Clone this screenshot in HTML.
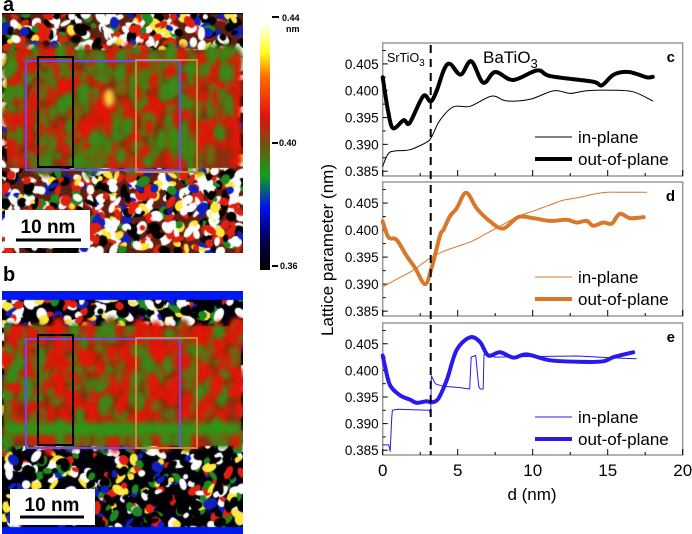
<!DOCTYPE html>
<html><head><meta charset="utf-8"><style>
body{margin:0;background:#fff;width:692px;height:534px;overflow:hidden;position:relative;font-family:"Liberation Sans",sans-serif}
canvas{position:absolute}
.lbl{position:absolute;font-weight:bold;font-size:20px}
</style></head><body>
<div class="lbl" style="left:3px;top:-6px">a</div>
<div class="lbl" style="left:3px;top:264px">b</div>
<canvas id="imgA" width="241" height="240" style="left:2px;top:13px"></canvas>
<canvas id="imgB" width="241" height="243" style="left:2px;top:291px"></canvas>
<svg id="ov" width="692" height="534" style="position:absolute;left:0;top:0">
 <g fill="none" stroke-width="2">
  <rect x="26" y="61" width="154" height="109" stroke="#6a4cf0"/>
  <rect x="38" y="57" width="35" height="110" stroke="#000"/>
  <rect x="136" y="60" width="61" height="112" stroke="#c88a3a"/>
  <rect x="26" y="339" width="154" height="109" stroke="#6a4cf0"/>
  <rect x="38" y="335" width="35" height="110" stroke="#000"/>
  <rect x="136" y="338" width="61" height="110" stroke="#c88a3a"/>
 </g>
 <g>
  <rect x="5" y="210" width="85" height="38" fill="#fff"/>
  <line x1="16" y1="240" x2="81" y2="240" stroke="#000" stroke-width="3"/>
  <text x="48" y="233" font-size="19" font-weight="bold" text-anchor="middle" font-family="Liberation Sans">10 nm</text>
 </g>
 <g>
  <rect x="10" y="489" width="85" height="36" fill="#fff"/>
  <line x1="20" y1="517" x2="84" y2="517" stroke="#000" stroke-width="3"/>
  <text x="52" y="511" font-size="19" font-weight="bold" text-anchor="middle" font-family="Liberation Sans">10 nm</text>
 </g>
 <defs><linearGradient id="cb" x1="0" y1="1" x2="0" y2="0">
  <stop offset="0" stop-color="#000"/><stop offset="0.12" stop-color="#000050"/><stop offset="0.25" stop-color="#0010f0"/>
  <stop offset="0.38" stop-color="#10a020"/><stop offset="0.5" stop-color="#6a5a10"/><stop offset="0.62" stop-color="#e01010"/>
  <stop offset="0.78" stop-color="#ff6a00"/><stop offset="0.88" stop-color="#ffff20"/><stop offset="1" stop-color="#fff"/>
 </linearGradient></defs>
 <g>
  <rect x="260" y="23" width="10" height="247" fill="url(#cb)"/>
  <line x1="272" y1="17" x2="279" y2="17" stroke="#000" stroke-width="2"/>
  <text x="282" y="21" font-size="9" font-weight="bold" font-family="Liberation Sans">0.44</text>
  <text x="286" y="32" font-size="9" font-weight="bold" font-family="Liberation Sans">nm</text>
  <line x1="272" y1="143" x2="278" y2="143" stroke="#000" stroke-width="2"/>
  <text x="279" y="146" font-size="9" font-weight="bold" font-family="Liberation Sans">0.40</text>
  <line x1="272" y1="266" x2="278" y2="266" stroke="#000" stroke-width="2"/>
  <text x="280" y="269" font-size="9" font-weight="bold" font-family="Liberation Sans">0.36</text>
 </g>
 <g id="chart"></g>
</svg>
<script>
// ---- chart data ----
const xTicks=[0,5,10,15,20];
const yTicks=[0.385,0.390,0.395,0.400,0.405];
const cOutX=[0,0.37,0.7,1.4,1.8,2.7,3.2,3.6,4.1,4.5,5.2,5.9,6.7,7.5,8.7,10.3,11.2,14.0,14.6,15.4,16.4,17.6,18.0];
const cOutY=[0.4025,0.396,0.393,0.3945,0.394,0.399,0.398,0.400,0.404,0.405,0.403,0.4055,0.4015,0.4035,0.402,0.4038,0.4027,0.4017,0.401,0.403,0.4035,0.4025,0.4026];
const cInX=[0,0.38,0.93,1.82,2.93,3.26,3.82,4.71,5.82,7.26,8.26,9.82,11.4,12.5,13.6,15.2,16.7,18.0];
const cInY=[0.3859,0.3883,0.3888,0.389,0.3904,0.3914,0.3945,0.397,0.3971,0.399,0.3981,0.3984,0.400,0.3995,0.400,0.4001,0.3998,0.3981];
const dOutX=[0,0.38,0.93,1.6,2.16,2.82,3.26,3.82,4.04,4.49,4.93,5.56,6.27,7.16,8.04,9.04,10.04,11.16,12.27,12.93,13.6,14.04,14.7,15.27,15.8,16.5,17.4];
const dOutY=[0.4016,0.3987,0.3982,0.3952,0.393,0.390,0.393,0.399,0.400,0.4026,0.404,0.4069,0.404,0.4016,0.4003,0.4024,0.4022,0.4017,0.4019,0.4014,0.4017,0.4008,0.4014,0.4012,0.403,0.4022,0.4024];
const dInX=[0,1,2,3,4,5,6,7,8,9,10,11,12,13,14,15,16,17.6];
const dInY=[0.3895,0.391,0.3925,0.3945,0.396,0.397,0.398,0.3995,0.401,0.4025,0.4035,0.4045,0.4055,0.406,0.4066,0.407,0.407,0.407];
const eOutX=[0,0.16,0.49,1.16,1.82,2.27,2.93,3.26,3.71,4.27,4.93,5.82,6.49,7.04,7.82,8.71,9.6,11.16,13.4,14.7,15.4,16.7];
const eOutY=[0.4028,0.4007,0.3972,0.3953,0.3945,0.3939,0.3942,0.394,0.3947,0.3982,0.4038,0.4062,0.4053,0.4028,0.4034,0.4024,0.403,0.4019,0.4016,0.4017,0.4025,0.4034];
const eInX=[0,0.4,0.5,0.6,0.65,1,3.1,3.2,3.25,3.5,4,5,5.8,5.9,6.2,6.4,6.5,6.7,6.75,7.5,10,13,15,16.9];
const eInY=[0.386,0.386,0.3848,0.391,0.3925,0.3927,0.3925,0.3918,0.399,0.3975,0.397,0.3968,0.3965,0.4025,0.4028,0.397,0.3965,0.3965,0.403,0.4025,0.4026,0.4027,0.4024,0.4022];
const dashX=3.2;

const NS="http://www.w3.org/2000/svg";
const G=document.getElementById('chart');
function mk(tag,attrs,parent){const e=document.createElementNS(NS,tag);for(const k in attrs)e.setAttribute(k,attrs[k]);(parent||G).appendChild(e);return e;}
function smooth(P){
 let d='M'+P[0][0].toFixed(1)+','+P[0][1].toFixed(1);
 for(let i=0;i<P.length-1;i++){
  const p0=P[i-1]||P[i],p1=P[i],p2=P[i+1],p3=P[i+2]||P[i+1];
  const c1=[p1[0]+(p2[0]-p0[0])/6,p1[1]+(p2[1]-p0[1])/6],c2=[p2[0]-(p3[0]-p1[0])/6,p2[1]-(p3[1]-p1[1])/6];
  d+=' C'+c1.map(v=>v.toFixed(1))+' '+c2.map(v=>v.toFixed(1))+' '+p2.map(v=>v.toFixed(1));
 }
 return d;
}
const X0=382.7,X1=682.7;
const sx=v=>X0+(v-0)/20*(X1-X0);
const panels=[
 {top:43,bot:176,letter:'c',col:'#000',series:[[cInX,cInY,1,1],[cOutX,cOutY,4,1]],leg:[137,159]},
 {top:182,bot:316,letter:'d',col:'#d8782a',series:[[dInX,dInY,1,1],[dOutX,dOutY,4,1]],leg:[277,299]},
 {top:323,bot:455,letter:'e',col:'#2a18f0',series:[[eInX,eInY,1,0],[eOutX,eOutY,4,1]],leg:[417,439]}
];
panels.forEach((p,i)=>{
 const ymin=0.3841,ymax=0.4089;
 const sy=v=>p.bot-(v-ymin)/(ymax-ymin)*(p.bot-p.top);
 const g=mk('g',{});
 
 
 mk('rect',{x:X0,y:p.top,width:X1-X0,height:p.bot-p.top,fill:'none',stroke:'#999','stroke-width':1.5},g);
 yTicks.forEach(t=>{
  const y=sy(t);
  mk('line',{x1:X0,x2:X0+5,y1:y,y2:y,stroke:'#000'},g);
  const tx=mk('text',{x:X0-4,y:y+5,'font-size':13.5,'text-anchor':'end','font-family':'Liberation Sans'},g);
  tx.textContent=t.toFixed(3);
  
  
  const ym=sy(t+0.0025); if(ym>p.top) mk('line',{x1:X0,x2:X0+3,y1:ym,y2:ym,stroke:'#000'},g);
 });
 for(let v=0;v<=20;v+=2.5){
  const x=sx(v);const L=(v%5===0)?6:3;
  mk('line',{x1:x,x2:x,y1:p.bot,y2:p.bot-L,stroke:'#000'},g);
  if(i===2 && v%5===0){const t=mk('text',{x:x,y:p.bot+21,'font-size':17,'text-anchor':'middle','font-family':'Liberation Sans'},g);t.textContent=v;
   }
 }
 p.series.forEach(([xs,ys,w,sm],k)=>{
  const P=xs.map((x,j)=>[sx(x),sy(ys[j])]);
  const pl=mk('path',{d:sm?smooth(P):'M'+P.map(q=>q[0].toFixed(1)+','+q[1].toFixed(1)).join(' L'),fill:'none',stroke:p.col,'stroke-width':w,'stroke-linejoin':'round','stroke-linecap':'round'},g);
  
  
 });
 ['in-plane','out-of-plane'].forEach((n,k)=>{
  const y=p.leg[k];
  mk('line',{x1:535,x2:572,y1:y,y2:y,stroke:p.col,'stroke-width':k?4:1},g);
  const t=mk('text',{x:578,y:y+6,'font-size':17,'font-family':'Liberation Sans'},g);t.textContent=n;
  
 });
 const L=mk('text',{x:675,y:p.top+19,'font-size':15,'font-weight':'bold','text-anchor':'end','font-family':'Liberation Sans'},g);L.textContent=p.letter;
});
const dl=mk('line',{x1:sx(dashX),x2:sx(dashX),y1:45,y2:455,stroke:'#000','stroke-width':2,'stroke-dasharray':'8,6'});

let t=mk('text',{x:387,y:62,'font-size':12.5,'font-family':'Liberation Sans'});t.innerHTML='SrTiO<tspan dy="4" font-size="10">3</tspan>';

t=mk('text',{x:483,y:63,'font-size':17,'font-family':'Liberation Sans'});t.innerHTML='BaTiO<tspan dy="5" font-size="13">3</tspan>';

t=mk('text',{x:0,y:0,'font-size':17,'text-anchor':'middle','font-family':'Liberation Sans',transform:'translate(333,250) rotate(-90)'});t.textContent='Lattice parameter (nm)';

t=mk('text',{x:532,y:500,'font-size':17,'text-anchor':'middle','font-family':'Liberation Sans'});t.textContent='d (nm)';


// ---- decorative microscopy textures ----
let seed=7;function rnd(){seed=(seed*16807)%2147483647;return seed/2147483647;}
function noise(ctx,x,y,w,h,n,bg,cols){
 ctx.fillStyle=bg;ctx.fillRect(x,y,w,h);
 for(let i=0;i<n;i++){ctx.fillStyle=cols[Math.floor(rnd()*cols.length)];ctx.beginPath();
  ctx.ellipse(x+rnd()*w,y+rnd()*h,2.5+rnd()*5,2+rnd()*3.5,rnd()*3,0,7);ctx.fill();}
}
function film(ctx,x,y,w,h,n,gfrac){
 ctx.fillStyle='#8a3010';ctx.fillRect(x,y,w,h);
 ctx.save();ctx.filter='blur(2px)';
 for(let i=0;i<n;i++){ctx.fillStyle=rnd()<gfrac?'#3a8a18':(rnd()<0.8?'#e01808':'#6a6a10');ctx.beginPath();
  ctx.ellipse(x+rnd()*w,y+rnd()*h,2+rnd()*5,3+rnd()*9,0,0,7);ctx.fill();}
 ctx.restore();
}
const colsA=['#000','#000','#000','#fff','#fff','#fff','#fff','#ffe840','#e02010','#e02010','#1020c0','#208a20'];
const a=document.getElementById('imgA').getContext('2d');
noise(a,0,0,241,240,1600,'#602010',colsA);
a.save();a.filter='blur(0.7px)';noise(a,0,0,241,1,0,'#000',colsA);a.restore();
film(a,5,37,230,118,550,0.42);
a.save();a.filter='blur(2px)';a.fillStyle='#ffd040';a.beginPath();a.ellipse(107,85,5,9,0,0,7);a.fill();
a.fillStyle='#e01808';a.fillRect(232,40,7,110);a.restore();
const colsB=['#000','#000','#000','#000','#fff','#fff','#ffe840','#e02010','#1020c0','#208a20'];
const b=document.getElementById('imgB').getContext('2d');
noise(b,0,0,241,243,1500,'#000010',colsB);
b.fillStyle='#0018f0';b.fillRect(0,0,241,9);b.fillRect(0,236,241,7);
film(b,2,35,237,120,550,0.3);
b.save();b.filter='blur(3px)';b.fillStyle='#2a9a18';b.fillRect(2,132,237,12);b.restore();
</script>
</body></html>
